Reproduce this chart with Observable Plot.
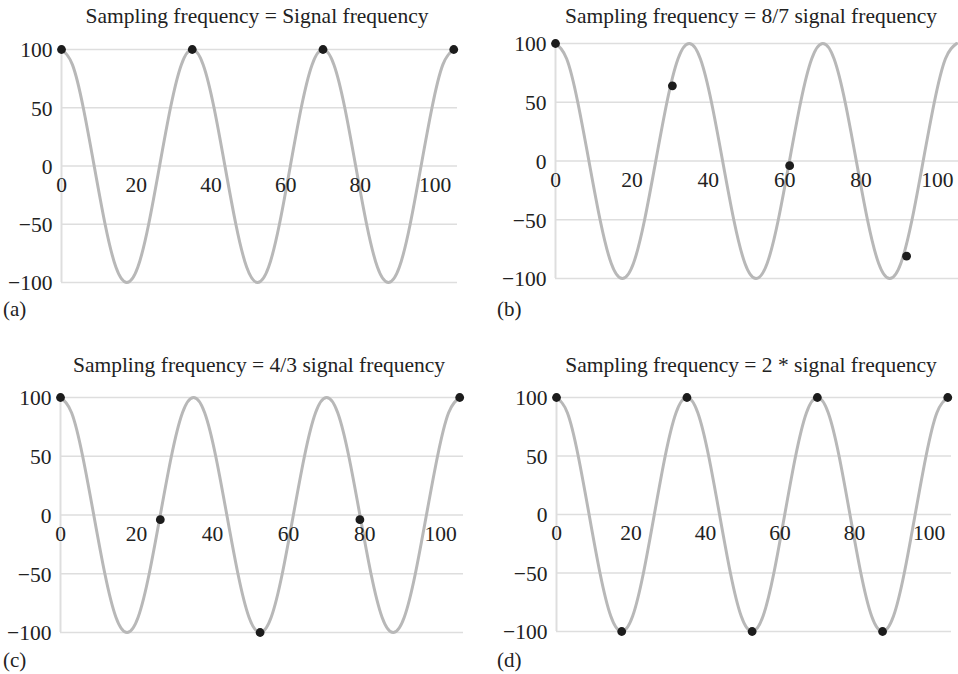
<!DOCTYPE html>
<html>
<head>
<meta charset="utf-8">
<script src="https://cdn.jsdelivr.net/npm/d3@7"></script>
<script src="https://cdn.jsdelivr.net/npm/@observablehq/plot@0.6"></script>
<style>
  html, body { margin: 0; padding: 0; background: #fff; }
  #root { position: relative; width: 958px; height: 674px; overflow: hidden; font-family: "Liberation Serif", "Times New Roman", serif; color: #222; }
  .panel { position: absolute; width: 479px; height: 337px; }
  .title { position: absolute; width: 600px; text-align: center; font-size: 21.5px; line-height: 24px; white-space: nowrap; }
  .tag { position: absolute; font-size: 21px; line-height: 24px; }
  .panel svg { position: absolute; left: 0; overflow: visible; }
</style>
</head>
<body>
<div id="root"></div>
<script>
// ---- data ----
// signal: cosine wave, period 35, amplitude 100 (read at 12 points per period)
const waveX = [0, 2.92, 5.83, 8.75, 11.67, 14.58, 17.5, 20.42, 23.33, 26.25, 29.17, 32.08,
               35, 37.92, 40.83, 43.75, 46.67, 49.58, 52.5, 55.42, 58.33, 61.25, 64.17, 67.08,
               70, 72.92, 75.83, 78.75, 81.67, 84.58, 87.5, 90.42, 93.33, 96.25, 99.17, 102.08, 105];
const waveY = [100, 87, 50, 0, -50, -87, -100, -87, -50, 0, 50, 87,
               100, 87, 50, 0, -50, -87, -100, -87, -50, 0, 50, 87,
               100, 87, 50, 0, -50, -87, -100, -87, -50, 0, 50, 87, 100];

const titles = [
  "Sampling frequency = Signal frequency",
  "Sampling frequency = 8/7 signal frequency",
  "Sampling frequency = 4/3 signal frequency",
  "Sampling frequency = 2 * signal frequency"
];
const tags = ["(a)", "(b)", "(c)", "(d)"];

const sampleXa = [0, 35, 70, 105];
const sampleYa = [100, 100, 100, 100];
const sampleXb = [0, 30.6, 61.3, 91.9];
const sampleYb = [100, 64, -4, -81];
const sampleXc = [0, 26.25, 52.5, 78.75, 105];
const sampleYc = [100, -4, -100, -4, 100];
const sampleXd = [0, 17.5, 35, 52.5, 70, 87.5, 105];
const sampleYd = [100, -100, 100, -100, 100, -100, 100];

const xTicks = [0, 20, 40, 60, 80, 100];
const xTickLabels = ["0", "20", "40", "60", "80", "100"];
const yTicks = [-100, -50, 0, 50, 100];
const yTickLabels = ["\u2212100", "\u221250", "0", "50", "100"];

// ---- layout (not data) ----
const layout = [
  {left: 0,   top: 0,   svgTop: 30, mt: 19, mb: 18, ml: 61, mr: 22, xmax: 106,   titleCx: 257, titleTop: 4,  tagLeft: 3,  tagTop: 297},
  {left: 479, top: 0,   svgTop: 30, mt: 13, mb: 22, ml: 76, mr: 0,  xmax: 105.5, titleCx: 272, titleTop: 4,  tagLeft: 18, tagTop: 297},
  {left: 0,   top: 337, svgTop: 40, mt: 20, mb: 15, ml: 60, mr: 16, xmax: 106,   titleCx: 259, titleTop: 16, tagLeft: 3,  tagTop: 311},
  {left: 479, top: 337, svgTop: 40, mt: 20, mb: 16, ml: 77, mr: 7,  xmax: 106,   titleCx: 272, titleTop: 16, tagLeft: 18, tagTop: 311}
];
const samples = [
  [sampleXa, sampleYa], [sampleXb, sampleYb], [sampleXc, sampleYc], [sampleXd, sampleYd]
];

const wave = waveX.map((x, i) => ({x, y: waveY[i]}));
const root = document.getElementById("root");

layout.forEach((L, i) => {
  const panel = document.createElement("div");
  panel.className = "panel";
  panel.style.left = L.left + "px";
  panel.style.top = L.top + "px";

  const t = document.createElement("div");
  t.className = "title";
  t.textContent = titles[i];
  t.style.left = (L.titleCx - 300) + "px";
  t.style.top = L.titleTop + "px";
  panel.appendChild(t);

  const pts = samples[i][0].map((x, j) => ({x, y: samples[i][1][j]}));
  const xt = xTicks.map((v, j) => ({v, label: xTickLabels[j]}));
  const yt = yTicks.map((v, j) => ({v, label: yTickLabels[j]}));

  const chart = Plot.plot({
    width: 479,
    height: 270,
    marginTop: L.mt,
    marginBottom: L.mb,
    marginLeft: L.ml,
    marginRight: L.mr,
    x: {domain: [0, L.xmax], axis: null},
    y: {domain: [-100, 100], axis: null},
    style: {fontFamily: '"Liberation Serif", "Times New Roman", serif', color: "#222", background: "transparent", overflow: "visible"},
    marks: [
      Plot.ruleY(yt, {y: "v", x1: 0, x2: L.xmax, stroke: "#dedede", strokeWidth: 1.5}),
      Plot.ruleX([0], {y1: -100, y2: 100, stroke: "#dedede", strokeWidth: 2}),
      Plot.line(wave, {x: "x", y: "y", curve: "natural", stroke: "#b8b8b8", strokeWidth: 3}),
      Plot.dot(pts, {x: "x", y: "y", r: 4.4, fill: "#1c1c1c", stroke: "none"}),
      Plot.text(yt, {x: 0, y: "v", text: "label", textAnchor: "end", dx: -9, dy: 1, fontSize: 21.5, fill: "#222"}),
      Plot.text(xt, {x: "v", y: 0, text: "label", dy: 19, fontSize: 21.5, fill: "#222"})
    ]
  });
  chart.style.top = L.svgTop + "px";
  panel.appendChild(chart);

  const g = document.createElement("div");
  g.className = "tag";
  g.textContent = tags[i];
  g.style.left = L.tagLeft + "px";
  g.style.top = L.tagTop + "px";
  panel.appendChild(g);

  root.appendChild(panel);
});
</script>
</body>
</html>
